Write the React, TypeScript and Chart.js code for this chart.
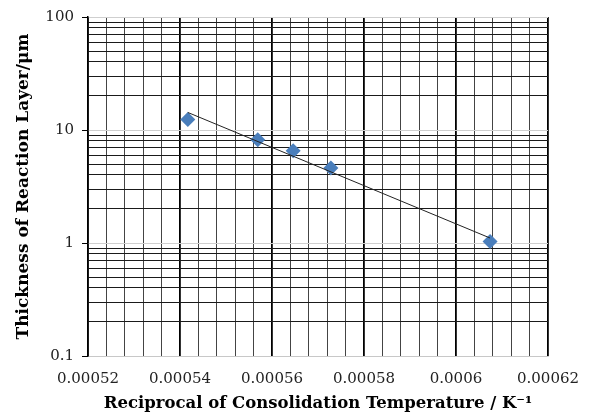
import React, { useEffect, useRef } from "react";
import { Chart, registerables } from "chart.js";

Chart.register(...registerables);

const xValues = [0.0005417, 0.0005569, 0.0005646, 0.0005728, 0.0006074];
const yValues = [12.4, 8.2, 6.56, 4.62, 1.03];
const trendX = [0.0005417, 0.0006074];
const trendY = [14.3, 1.107];

const xMin = 0.00052;
const xMax = 0.00062;
const xMinorStep = 0.000004;
const xMajorStep = 0.00002;
const yDecades = [0.1, 1, 10, 100];

const xTitle = "Reciprocal of Consolidation Temperature / K\u207B\u00B9";
const yTitle = "Thickness of Reaction Layer/\u03BCm";

const isXMajor = (v: number) => {
  const r = v / xMajorStep;
  return Math.abs(r - Math.round(r)) < 1e-6;
};
const isYMajor = (v: number) => {
  const l = Math.log10(v);
  return Math.abs(l - Math.round(l)) < 1e-6;
};

export default function App() {
  const ref = useRef<HTMLCanvasElement | null>(null);
  useEffect(() => {
    document.body.style.margin = "0";
    const ctx = ref.current!;
    const xTicks: number[] = [];
    const n = Math.round((xMax - xMin) / xMinorStep);
    for (let i = 0; i <= n; i++) xTicks.push(Number((xMin + i * xMinorStep).toPrecision(8)));
    const yTicks: number[] = [];
    for (let d = 0; d < yDecades.length - 1; d++) {
      for (let k = 1; k <= 9; k++) yTicks.push(Number((yDecades[d] * k).toPrecision(6)));
    }
    yTicks.push(yDecades[yDecades.length - 1]);

    const font = "'DejaVu Serif', serif";
    const chart = new Chart(ctx, {
      type: "scatter",
      data: {
        datasets: [
          {
            type: "line",
            data: trendX.map((x, i) => ({ x, y: trendY[i] })),
            borderColor: "#222",
            borderWidth: 1,
            pointRadius: 0,
            fill: false,
          } as any,
          {
            data: xValues.map((x, i) => ({ x, y: yValues[i] })),
            pointStyle: "rectRot",
            pointRadius: 7.5,
            backgroundColor: "#4a7ebb",
            borderColor: "#4a7ebb",
            borderWidth: 0,
          },
        ],
      },
      options: {
        animation: false,
        responsive: false,
        layout: { padding: { top: 16, right: 41, left: 0, bottom: 0 } },
        plugins: { legend: { display: false }, tooltip: { enabled: false } },
        scales: {
          x: {
            type: "linear",
            min: xMin,
            max: xMax,
            afterBuildTicks: (s: any) => {
              s.ticks = xTicks.map((v) => ({ value: v }));
            },
            afterFit: (s: any) => {
              s.height = 417 - 356;
            },
            ticks: {
              autoSkip: false,
              maxRotation: 0,
              padding: 6,
              color: "#222",
              font: { family: font, size: 15 },
              callback: (v: any) => (isXMajor(Number(v)) ? String(Number(Number(v).toPrecision(6))) : ""),
            },
            grid: {
              drawTicks: true,
              tickLength: 8,
              tickColor: "rgba(0,0,0,0)",
              color: (c: any) => (c.tick && isXMajor(c.tick.value) ? "#000" : "#444"),
              lineWidth: (c: any) => (c.tick && isXMajor(c.tick.value) ? 1.8 : 1),
            },
            border: { display: true, color: "#c8c8c8", width: 1 },
            title: {
              display: true,
              text: xTitle,
              color: "#000",
              font: { family: font, size: 16.5, weight: "bold" },
              padding: { top: 0, bottom: 3 },
            },
          },
          y: {
            type: "logarithmic",
            min: 0.1,
            max: 100,
            afterBuildTicks: (s: any) => {
              s.ticks = yTicks.map((v) => ({ value: v }));
            },
            afterFit: (s: any) => {
              s.width = 88;
            },
            ticks: {
              autoSkip: false,
              padding: 8,
              color: "#222",
              font: { family: font, size: 15 },
              callback: (v: any) => (isYMajor(Number(v)) ? String(Number(v)) : ""),
            },
            grid: {
              drawTicks: true,
              tickLength: 6,
              tickColor: (c: any) => (c.tick && isYMajor(c.tick.value) ? "#000" : "rgba(0,0,0,0)"),
              color: (c: any) => (c.tick && isYMajor(c.tick.value) ? "#cfcfcf" : "#1a1a1a"),
              lineWidth: 1,
            },
            border: { display: true, color: "#000", width: 1.5 },
            title: {
              display: true,
              text: yTitle,
              color: "#000",
              font: { family: font, size: 17, weight: "bold" },
              padding: { top: 13, bottom: 0 },
            },
          },
        },
      } as any,
    });
    return () => chart.destroy();
  }, []);
  return (
    <div style={{ width: 589, height: 417 }}>
      <canvas ref={ref} width={589} height={417} style={{ display: "block" }} />
    </div>
  );
}
